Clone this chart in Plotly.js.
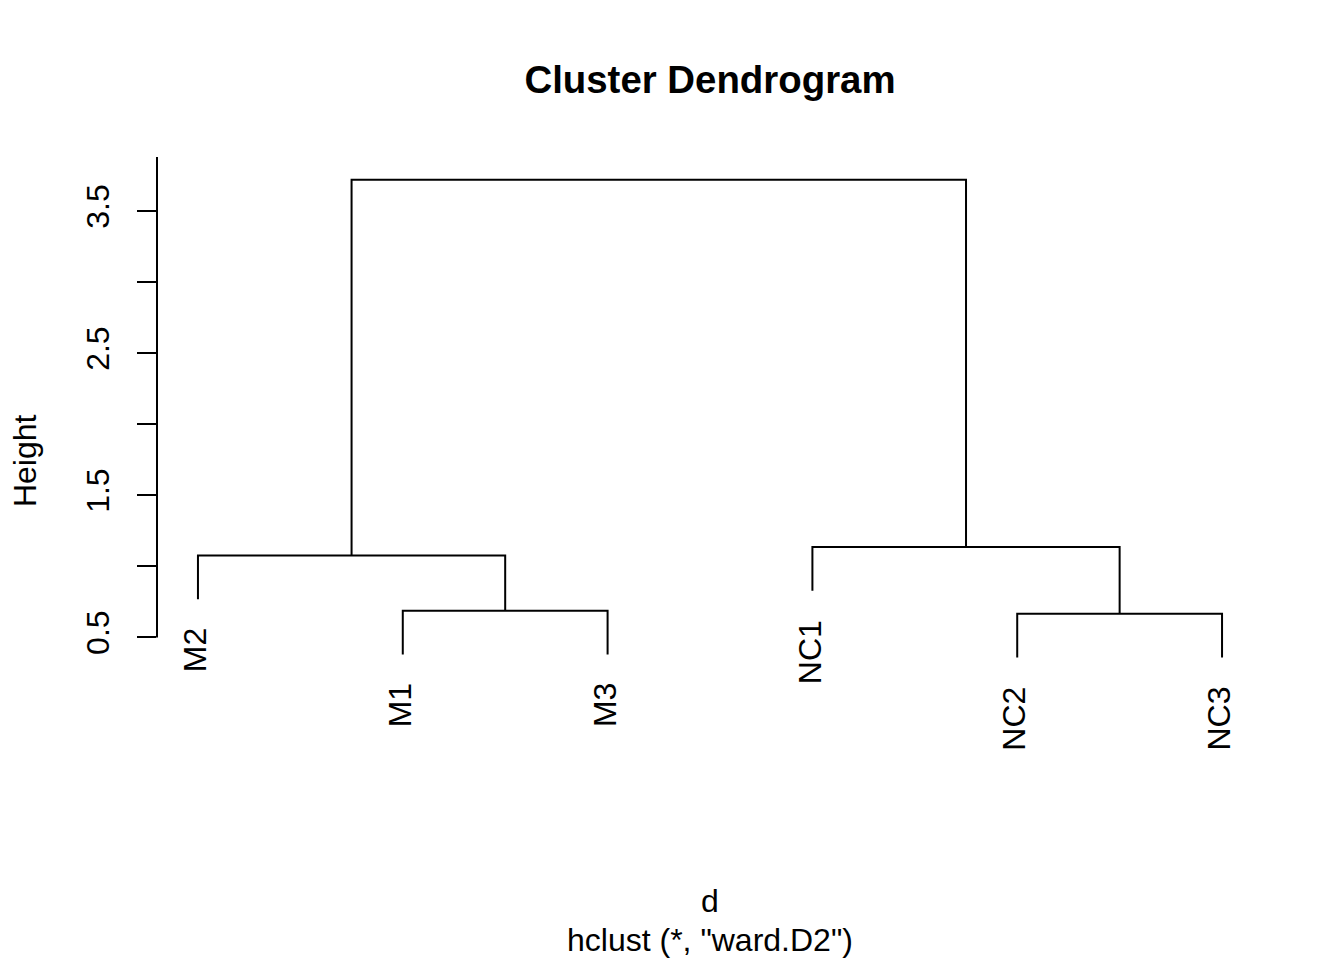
<!DOCTYPE html>
<html><head><meta charset="utf-8">
<script src="https://cdn.plot.ly/plotly-3.0.1.min.js"></script>
<style>html,body{margin:0;padding:0;background:#fff}</style>
</head><body>
<div id="chart" style="width:1344px;height:960px"></div>
<script>
// Leaves in plotted (dendrogram) order
const leafLabels = ['M2', 'M1', 'M3', 'NC1', 'NC2', 'NC3'];
// hclust-style merge table: negative = leaf (1-based position in leafLabels), positive = earlier merge step
const mergeLeft   = [-5, -2, -1, -4, 3];
const mergeRight  = [-6, -3,  2,  1, 4];
const mergeHeight = [0.667, 0.688, 1.077, 1.137, 3.723];
const hang = 0.308;
const yTickVals = [0.5, 1, 1.5, 2, 2.5, 3, 3.5];
const yTickText = ['0.5', '', '1.5', '', '2.5', '', '3.5'];
const titleText = 'Cluster Dendrogram';
const xLabelText = 'd';
const subText = 'hclust (*, "ward.D2")';
const yLabelText = 'Height';

const FONT = 'Liberation Sans, Arial, Helvetica, sans-serif';
const W = 1344, H = 960;
const M = {l: 157.4, r: 80.6, t: 157.4, b: 195.8};
const yRange = [-0.3908, 3.8824];
const xRange = [0.8, 6.2];

// build segments
const nodeX = [], xs = [], ys = [], leafAnn = [];
function childInfo(c, h) {
  if (c < 0) {
    const x = -c;
    leafAnn.push({x: x, y: h - hang, label: leafLabels[-c - 1]});
    return {x: x, y: h - hang};
  }
  return {x: nodeX[c - 1], y: mergeHeight[c - 1]};
}
for (let k = 0; k < mergeHeight.length; k++) {
  const h = mergeHeight[k];
  const a = childInfo(mergeLeft[k], h);
  const b = childInfo(mergeRight[k], h);
  xs.push(a.x, a.x, b.x, b.x, null);
  ys.push(a.y, h, h, b.y, null);
  nodeX[k] = (a.x + b.x) / 2;
}

const plotH = H - M.t - M.b;
function paperY(py) { return (H - M.b - py) / plotH; }
function paperX(px) { return (px - M.l) / (W - M.l - M.r); }

const annotations = leafAnn.map(d => ({
  x: d.x, y: d.y, xref: 'x', yref: 'y', text: d.label, showarrow: false,
  textangle: -90, xanchor: 'center', yanchor: 'top', yshift: -28, xshift: -3,
  borderpad: 0, font: {family: FONT, size: 32, color: '#000'}
}));
annotations.push({
  x: 0.5, y: paperY(901), xref: 'paper', yref: 'paper', text: xLabelText, showarrow: false,
  xanchor: 'center', yanchor: 'middle', font: {family: FONT, size: 32, color: '#000'}
});
annotations.push({
  x: 0.5, y: paperY(940), xref: 'paper', yref: 'paper', text: subText, showarrow: false,
  xanchor: 'center', yanchor: 'middle', font: {family: FONT, size: 32, color: '#000'}
});
annotations.push({
  x: paperX(25), y: 0.5, xref: 'paper', yref: 'paper', text: yLabelText, showarrow: false,
  textangle: -90, xanchor: 'center', yanchor: 'middle', font: {family: FONT, size: 32, color: '#000'}
});

const layout = {
  width: W, height: H,
  margin: {l: M.l, r: M.r, t: M.t, b: M.b, pad: 0},
  paper_bgcolor: '#fff', plot_bgcolor: '#fff',
  showlegend: false,
  title: {
    text: titleText, x: 0.5, xref: 'paper', xanchor: 'center',
    y: 1 - 80 / H, yref: 'container', yanchor: 'middle',
    font: {family: FONT, size: 38.4, color: '#000', weight: 'bold'}
  },
  xaxis: {range: xRange, visible: false, fixedrange: true},
  yaxis: {
    range: yRange, showgrid: false, zeroline: false, showline: false,
    ticks: 'outside', ticklen: 19, tickwidth: 2, tickcolor: '#000',
    tickmode: 'array', tickvals: yTickVals, ticktext: yTickText,
    tickangle: -90, ticklabelstandoff: 15,
    tickfont: {family: FONT, size: 32, color: '#000'},
    fixedrange: true
  },
  shapes: [{
    type: 'line', xref: 'paper', yref: 'y', x0: 0, x1: 0,
    y0: yTickVals[0], y1: yRange[1], line: {color: '#000', width: 2}
  }],
  annotations: annotations
};

Plotly.newPlot('chart', [{
  type: 'scatter', mode: 'lines', x: xs, y: ys,
  line: {color: '#000', width: 2}, hoverinfo: 'skip', cliponaxis: false
}], layout, {staticPlot: true, displayModeBar: false});
</script>
</body></html>
